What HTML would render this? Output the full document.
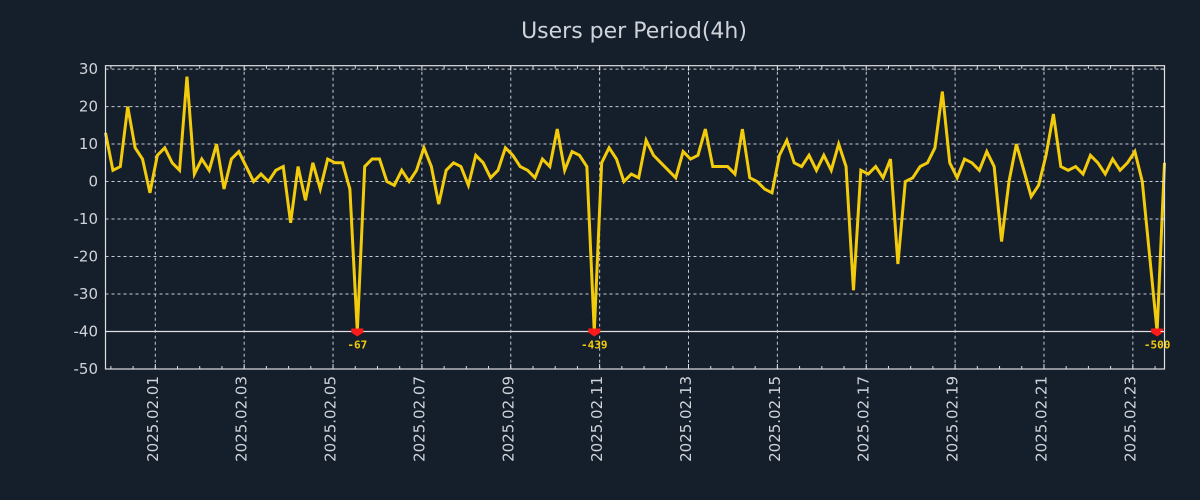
<!DOCTYPE html>
<html><head><meta charset="utf-8"><style>
html,body{margin:0;padding:0;background:#151e2b;}
svg{display:block;font-family:"DejaVu Sans","Liberation Sans",sans-serif;}
</style></head><body>
<svg id="chart" width="1200" height="500" viewBox="0 0 1200 500" xmlns="http://www.w3.org/2000/svg">
<rect x="0" y="0" width="1200" height="500" fill="#151e2b"/>
<text x="634" y="38" text-anchor="middle" font-size="22" fill="#d0d4da">Users per Period(4h)</text>
<g id="grid"></g>
<g id="series"></g>
<g id="axes"></g>
</svg>
<script>
// hours from 2025-02-01 00:00 of first period
const startHour = -26.9;
const periodHours = 4;
const users = [13,3,4,20,9,6,-3,7,9,5,3,28,2,6,3,10,-2,6,8,4,0,2,0,3,4,-11,4,-5,5,-2,6,5,5,-2,-67,4,
6,6,0,-1,3,0,3,9,4,-6,3,5,4,-1,7,5,1,3,9,7,4,3,1,6,4,14,3,8,7,4,-439,5,9,6,0,2,1,
11,7,5,3,1,8,6,7,14,4,4,4,2,14,1,0,-2,-3,7,11,5,4,7,3,7,3,10,4,-29,
3,2,4,1,6,-22,0,1,4,5,9,24,5,1,6,5,3,8,4,-16,0,10,3,-4,-1,7,18,
4,3,4,2,7,5,2,6,3,5,8,0,-20,-500,5];
const yTicks = [30,20,10,0,-10,-20,-30,-40,-50];
const xTickLabels = ["2025.02.01","2025.02.03","2025.02.05","2025.02.07","2025.02.09","2025.02.11","2025.02.13","2025.02.15","2025.02.17","2025.02.19","2025.02.21","2025.02.23"];
const xTickDays = [0,2,4,6,8,10,12,14,16,18,20,22];
const clipFloor = -40;

const NS = "http://www.w3.org/2000/svg";
const L = 105.5, R = 1164.5, T = 65.7, B = 369;
const yMin = -50, yMax = 30.9;
const hMin = startHour, hMax = startHour + (users.length - 1) * periodHours;
const xs = h => L + (h - hMin) / (hMax - hMin) * (R - L);
const ys = v => B - (v - yMin) / (yMax - yMin) * (B - T);
function mk(tag, attrs, parent){const e=document.createElementNS(NS,tag);for(const k in attrs)e.setAttribute(k,attrs[k]);parent.appendChild(e);return e;}
const grid=document.getElementById('grid'), series=document.getElementById('series'), axes=document.getElementById('axes');

yTicks.forEach(v=>{
  const y=ys(v);
  if(v>yMin && v!==clipFloor){
    const g=mk('line',{x1:L,x2:R,y1:y,y2:y,stroke:'#c8ccd2','stroke-width':1,'stroke-dasharray':'3,3'},grid);
    
    
  }
  const t=mk('text',{x:98,y:y+5,'text-anchor':'end','font-size':15,fill:'#d0d4da'},axes);
  t.textContent=v;
  
  
});
const cl=mk('line',{x1:L,x2:R,y1:ys(clipFloor),y2:ys(clipFloor),stroke:'#e0e0e0','stroke-width':1.2},grid);



xTickDays.forEach((d,i)=>{
  const x=xs(d*24);
  const g=mk('line',{x1:x,x2:x,y1:T,y2:B,stroke:'#c8ccd2','stroke-width':1,'stroke-dasharray':'3,3'},grid);
  
  
  const t=mk('text',{x:0,y:0,'text-anchor':'end','font-size':15,fill:'#d0d4da',transform:`translate(${x+2.5},376) rotate(-90)`},axes);
  t.textContent=xTickLabels[i];
  
  
});
for(let h=Math.ceil(hMin/12)*12; h<=hMax; h+=12){
  const x=xs(h);
  const len = (h%48===0)?5:3;
  mk('line',{x1:x,x2:x,y1:B,y2:B-len,stroke:'#e0e0e0','stroke-width':1},axes);
  mk('line',{x1:x,x2:x,y1:T,y2:T+len,stroke:'#e0e0e0','stroke-width':1},axes);
}
yTicks.forEach(v=>{const y=ys(v);mk('line',{x1:R,x2:R-4,y1:y,y2:y,stroke:'#e0e0e0','stroke-width':1},axes);});

const pts=users.map((v,i)=>`${xs(hMin+i*periodHours).toFixed(2)},${ys(Math.max(v,clipFloor)).toFixed(2)}`).join(' ');
const pl=mk('polyline',{points:pts,fill:'none',stroke:'#f2cb0c','stroke-width':3,'stroke-linejoin':'miter'},series);



users.forEach((v,i)=>{
  if(v<clipFloor){
    const x=xs(hMin+i*periodHours), y=ys(clipFloor);
    const m=mk('polygon',{points:`${x-6},${y-3} ${x+6},${y-3} ${x+6},${y+1} ${x},${y+5} ${x-6},${y+1}`,fill:'#ff1a1a'},series);
    
    
    const t=mk('text',{x:x,y:y+17,'text-anchor':'middle','font-size':11,'font-weight':'bold','font-family':'"DejaVu Sans Mono","Liberation Mono",monospace',fill:'#f2cb0c'},series);
    t.textContent=v;
    
    
  }
});

const fr=mk('rect',{x:L,y:T,width:R-L,height:B-T,fill:'none',stroke:'#e0e0e0','stroke-width':1.2},axes);


</script>
</body></html>
